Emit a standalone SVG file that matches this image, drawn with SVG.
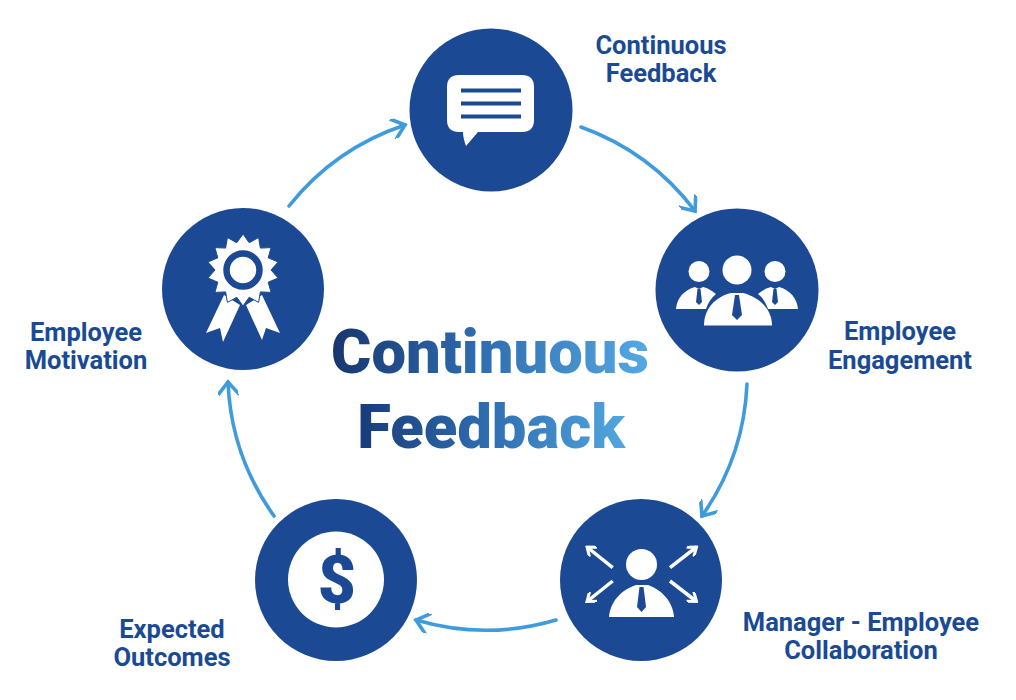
<svg xmlns="http://www.w3.org/2000/svg" width="1016" height="700" viewBox="0 0 1016 700">
<style>
.c{fill:#1b4993}
.w{fill:#fff}
.l{font-family:Roboto,"Liberation Sans",sans-serif;font-weight:700;font-size:25.500px;fill:#1b4a94;text-anchor:middle}
.t{font-family:Roboto,"Liberation Sans",sans-serif;font-weight:900;font-size:61.500px;text-anchor:middle}
.a{fill:none;stroke:#3f9bdb;stroke-width:3.6;stroke-linecap:round;marker-end:url(#h)}
.s{fill:none;stroke:#fff;stroke-width:3.5}
</style>
<defs>
<marker id="h" viewBox="0 0 20 20" refX="15" refY="10" markerWidth="20" markerHeight="20" markerUnits="userSpaceOnUse" orient="auto">
<path d="M3 0 L15 10 L3 20" fill="none" stroke="#3f9bdb" stroke-width="3.6" stroke-linecap="round"/>
</marker>
<marker id="m" viewBox="0 0 12 12" refX="10" refY="6" markerWidth="12" markerHeight="12" markerUnits="userSpaceOnUse" orient="auto">
<path d="M2 0 L10 6 L2 12" fill="none" stroke="#fff" stroke-width="3"/>
</marker>
<linearGradient id="g1" gradientUnits="userSpaceOnUse" x1="332" y1="0" x2="648" y2="0"><stop offset="0" stop-color="#17366f"/><stop offset=".45" stop-color="#2d6bae"/><stop offset="1" stop-color="#55a9e2"/></linearGradient>
<linearGradient id="g2" gradientUnits="userSpaceOnUse" x1="358" y1="0" x2="625" y2="0"><stop offset="0" stop-color="#193b79"/><stop offset=".5" stop-color="#2f6fb2"/><stop offset="1" stop-color="#52a6df"/></linearGradient>
</defs>
<rect width="1016" height="700" fill="#fff"/>
<g id="connectors">
<path class="a" d="M581 127 A248 248 0 0 1 695 211"/>
<path class="a" d="M747 384 A248 248 0 0 1 702 516"/>
<path class="a" d="M556 620 A248 248 0 0 1 416 620"/>
<path class="a" d="M274 516 A248 248 0 0 1 228 382"/>
<path class="a" d="M289 206 A248 248 0 0 1 405 125"/>
</g>
<g id="node-feedback">
<circle class="c" cx="491" cy="110" r="81.500"/>
<path class="w" d="M459 75 H522 Q534 75 534 87 V120 Q534 132 522 132 H478 L466 146 Q463 138 463 132 H459 Q447 132 447 120 V87 Q447 75 459 75Z"/>
<path d="M461 90.500H521M461 103.500H521M461 116.500H521" stroke="#1b4993" stroke-width="4" fill="none"/>
<text class="l" x="661" y="54">Continuous</text>
<text class="l" x="661" y="82">Feedback</text>
</g>
<g id="node-engagement">
<circle class="c" cx="737" cy="290" r="81.500"/>
<circle class="w" cx="699" cy="271.500" r="10.500"/>
<circle class="w" cx="775" cy="271.500" r="10.500"/>
<path class="w" d="M676 309 C677 298 684 290 695 287 L699 289 L703 287 C708 288 712 291 716 294 C711 298 708 303 706 309Z"/>
<path class="w" d="M798 309 C797 298 790 290 779 287 L775 289 L771 287 C766 288 762 291 758 294 C763 298 766 303 768 309Z"/>
<path class="c" d="M697.500 289 H700.500 L702 302 L699 305 L696 302Z"/>
<path class="c" d="M773.500 289 H776.500 L778 302 L775 305 L772 302Z"/>
<circle class="w" cx="737" cy="270" r="14.500"/>
<path class="w" d="M704 325.500 C704 309 715 297 731 293 H743 C759 297 772 309 772 325.500Z"/>
<path class="c" d="M735 295 H739 L742 315 L737 320 L732 315Z"/>
<text class="l" x="900" y="340">Employee</text>
<text class="l" x="900" y="369">Engagement</text>
</g>
<g id="node-collaboration">
<circle class="c" cx="641" cy="580" r="81"/>
<circle class="w" cx="641.500" cy="564.500" r="15.500"/>
<path class="w" d="M609 617 C610 602 621 590 636 585 H648 C662 590 673 602 674 617Z"/>
<path class="c" d="M639.500 587 H643.500 L646 607 L641.500 612 L637 607Z"/>
<path class="s" marker-end="url(#m)" d="M612.700 567.700 L587 547"/>
<path class="s" marker-end="url(#m)" d="M670 567.700 L696.500 547"/>
<path class="s" marker-end="url(#m)" d="M612.700 581 L587 601.500"/>
<path class="s" marker-end="url(#m)" d="M670 581 L696.500 601.500"/>
<text class="l" x="861" y="631">Manager - Employee</text>
<text class="l" x="861" y="659">Collaboration</text>
</g>
<g id="node-outcomes">
<circle class="c" cx="336" cy="580" r="81"/>
<circle class="w" cx="336" cy="579.500" r="48"/>
<text x="337" y="603" style="font-family:Roboto,'Liberation Sans',sans-serif;font-weight:900;font-size:66px;fill:#1b4993;text-anchor:middle">$</text>
<text class="l" x="172" y="638">Expected</text>
<text class="l" x="172" y="666">Outcomes</text>
</g>
<g id="node-motivation">
<circle class="c" cx="243" cy="289" r="81"/>
<path class="w" d="M224 295 L206 333 L220 328 L223 342 L240 305Z"/>
<path class="w" d="M262 295 L280 333 L266 328 L262 340 L246 305Z"/>
<polygon class="w" stroke="#1b4993" stroke-width="1" points="243,234 249.200,242.700 258.600,237.600 260.400,248.100 271.100,247.600 268.200,257.800 278.100,262 271,270 278.100,278 268.200,282.200 271.100,292.400 260.400,291.900 258.600,302.400 249.200,297.300 243,306 236.800,297.300 227.400,302.400 225.600,291.900 214.900,292.400 217.800,282.200 207.900,278 215,270 207.900,262 217.800,257.800 214.900,247.600 225.600,248.100 227.400,237.600 236.800,242.700"/>
<circle class="w" cx="243" cy="270" r="16.500" stroke="#1b4993" stroke-width="6.500"/>
<text class="l" x="86" y="341">Employee</text>
<text class="l" x="86" y="369">Motivation</text>
</g>
<g id="title">
<text class="t" x="490" y="373" fill="url(#g1)">Continuous</text>
<text class="t" x="491" y="448" fill="url(#g2)">Feedback</text>
</g>
</svg>
